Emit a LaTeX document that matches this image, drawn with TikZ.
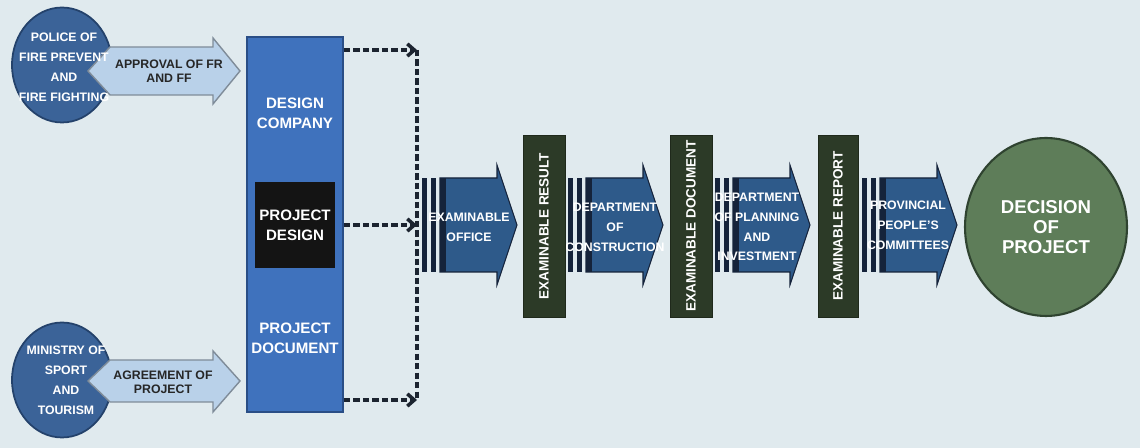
\documentclass[tikz,border=0pt]{standalone}
\usepackage{fontspec}
\setmainfont{Liberation Sans}
\usetikzlibrary{shapes.geometric,arrows.meta}
\definecolor{bgc}{HTML}{E0EAEE}
\definecolor{agencyblue}{HTML}{3B6398}
\definecolor{agencyedge}{HTML}{24426B}
\definecolor{palearrow}{HTML}{B9D1E9}
\definecolor{paleedge}{HTML}{7F8C99}
\definecolor{companyblue}{HTML}{3F72BD}
\definecolor{companyedge}{HTML}{2A4E86}
\definecolor{stepblue}{HTML}{2E5A8A}
\definecolor{stepedge}{HTML}{15233A}
\definecolor{bargreen}{HTML}{2C3A27}
\definecolor{decgreen}{HTML}{5E7D59}
\definecolor{decedge}{HTML}{2F4330}
\definecolor{linkc}{HTML}{1C2430}
\begin{document}
\begin{tikzpicture}[x=0.02cm, y=-0.02cm,
    every node/.style={font=\bfseries\fontsize{7}{11.3}\selectfont, align=center, text=white, inner sep=0pt},
    agency/.style={ellipse, fill=agencyblue, draw=agencyedge, line width=1pt, minimum width=2cm, minimum height=2.3cm},
    palearr/.style={fill=palearrow, draw=paleedge, line width=0.8pt},
    paletext/.style={text=black!85, font=\bfseries\fontsize{7}{8}\selectfont},
    bigtext/.style={font=\bfseries\fontsize{8.6}{11.4}\selectfont},
    stepbody/.style={fill=stepblue, draw=stepedge, line width=0.6pt},
    stripe/.style={fill=stepedge},
    resultbar/.style={rotate=90, fill=bargreen, draw=bargreen!70!black, minimum width=3.64cm, minimum height=0.84cm, font=\bfseries\fontsize{7.7}{9}\selectfont},
    link/.style={draw=linkc, line width=2pt, dash pattern=on 3.6pt off 1.8pt}]
  % background
  \fill[bgc] (0,0) rectangle (1140,448);

  % agencies and their approvals
  \node[agency] (pol) at (62,65) {};
  \node[agency] (min) at (62,380) {};
  \draw[palearr] (88,71) -- (110,47) -- (213,47) -- (213,38) -- (240,71) -- (213,104) -- (213,95) -- (110,95) -- cycle;
  \draw[palearr] (88,381) -- (110,360) -- (213,360) -- (213,351) -- (240,381) -- (213,412) -- (213,402) -- (110,402) -- cycle;
  \node (polt) at (64,67) {POLICE OF\\FIRE PREVENT\\AND\\FIRE FIGHTING};
  \node (mint) at (66,380) {MINISTRY OF\\SPORT\\AND\\TOURISM};
  \node[paletext] (apv) at (169,71) {APPROVAL OF FR\\AND FF};
  \node[paletext] (agr) at (163,382) {AGREEMENT OF\\PROJECT};

  % design company
  \node[fill=companyblue, draw=companyedge, line width=1pt, minimum width=1.92cm, minimum height=7.5cm] (dc) at (295,224.5) {};
  \node[bigtext] (comp) at (295,113) {DESIGN\\COMPANY};
  \node[bigtext, fill=black!92, minimum width=1.6cm, minimum height=1.72cm] (pd) at (295,225) {PROJECT\\DESIGN};
  \node[bigtext] (pdoc) at (295,338) {PROJECT\\DOCUMENT};

  % dashed links to the examination
  \coordinate (j1) at (417,50);
  \coordinate (j2) at (417,225);
  \coordinate (j3) at (417,400);
  \draw[link, -{Straight Barb[length=4pt, width=7pt]}] (dc.east |- j1) -- (j1);
  \draw[link, -{Straight Barb[length=4pt, width=7pt]}] (dc.east |- j2) -- (j2);
  \draw[link, -{Straight Barb[length=4pt, width=7pt]}] (dc.east |- j3) -- (j3);
  \draw[link] (j1) -- (j3);

  % striped steps
  \foreach \s in {422,568,715,862} {
    \draw[stepbody] ({\s+18},178) -- ({\s+75},178) -- ({\s+75},165) -- ({\s+95},225)
      -- ({\s+75},285) -- ({\s+75},272) -- ({\s+18},272) -- cycle;
    \fill[stripe] (\s,178) rectangle ({\s+5},272);
    \fill[stripe] ({\s+9},178) rectangle ({\s+14},272);
    \fill[stripe] ({\s+18},178) rectangle ({\s+24},272);
  }
  \node (off) at (469,227) {EXAMINABLE\\OFFICE};
  \node (con) at (615,227) {DEPARTMENT\\OF\\CONSTRUCTION};
  \node (plan) at (757,227) {DEPARTMENT\\OF PLANNING\\AND\\INVESTMENT};
  \node (prov) at (908,225) {PROVINCIAL\\PEOPLE'S\\COMMITTEES};

  % results
  \node[resultbar] (res) at (544,226) {EXAMINABLE RESULT};
  \node[resultbar] (doc) at (691,226) {EXAMINABLE DOCUMENT};
  \node[resultbar, minimum height=0.8cm] (rep) at (838,226) {EXAMINABLE REPORT};

  % decision
  \node[ellipse, fill=decgreen, draw=decedge, line width=1.2pt, minimum width=3.24cm, minimum height=3.56cm,
        font=\bfseries\fontsize{10.6}{11.4}\selectfont] (dec) at (1046,227) {DECISION\\OF\\PROJECT};
\end{tikzpicture}
\end{document}
